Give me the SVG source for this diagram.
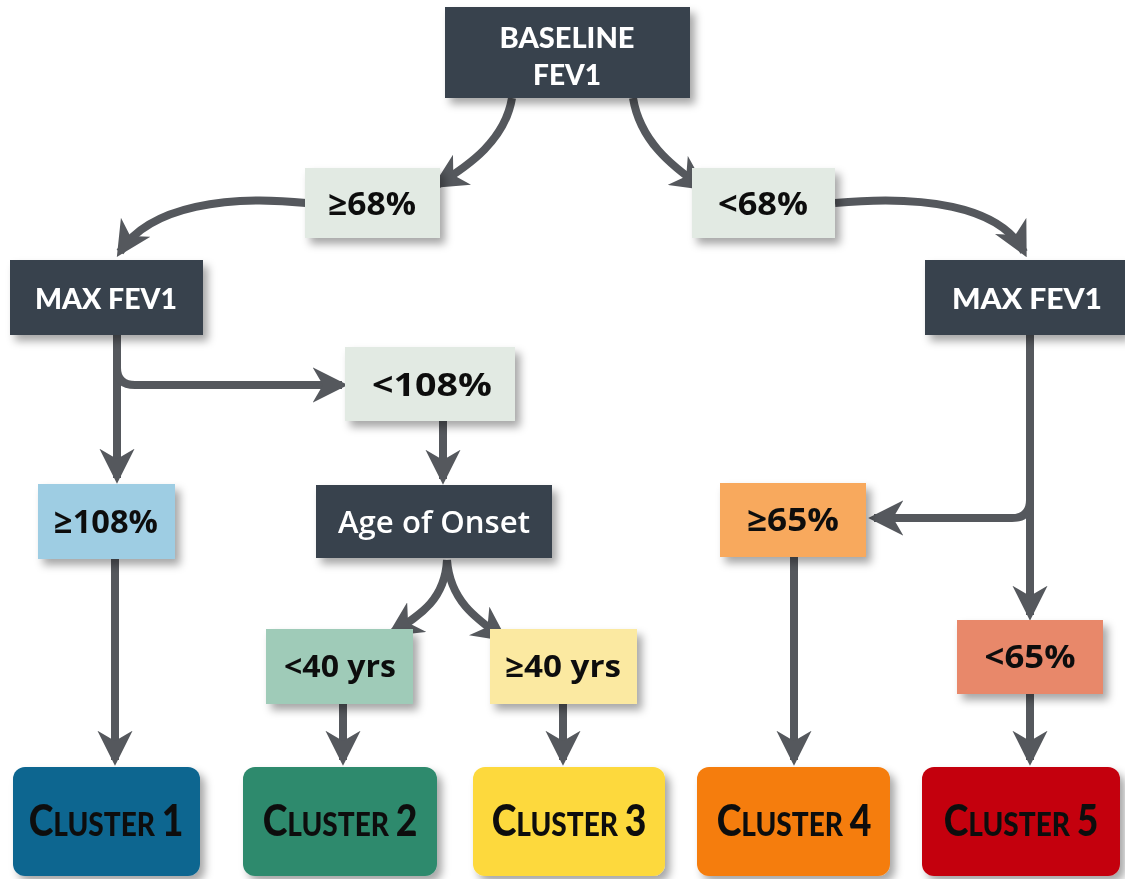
<svg xmlns="http://www.w3.org/2000/svg" width="1125" height="879" viewBox="0 0 1125 879">
<defs>
<filter id="sh" x="-10%" y="-10%" width="130%" height="140%">
<feDropShadow dx="5" dy="6" stdDeviation="4" flood-color="#000" flood-opacity="0.35"/>
</filter>
<marker id="ah" viewBox="0 0 12 12" refX="10" refY="6" markerWidth="4.4" markerHeight="4.4" orient="auto" markerUnits="strokeWidth">
<path d="M0,0 L12,6 L0,12 L3.5,6 z" fill="#55585d"/>
</marker>
<style>
.dk{fill:#37424e}
.lt{fill:#e2eae3}
.wt{font-family:"Lato","Open Sans",sans-serif;font-weight:900;fill:#fff;text-anchor:middle}
.wa{font-family:"Open Sans","Lato",sans-serif;font-weight:600;fill:#fff;text-anchor:middle}
.bk{font-family:"Open Sans","Lato",sans-serif;font-weight:700;fill:#111;text-anchor:middle}
.cl{font-family:"Lato","Open Sans",sans-serif;font-weight:900;fill:#111;text-anchor:middle}
.c{fill:none;stroke:#55585d;stroke-width:8;marker-end:url(#ah)}
</style>
</defs>
<rect width="1125" height="879" fill="#fff"/>
<g id="connectors">
<path class="c" d="M512,98 C505,140 470,165 437,185"/>
<path class="c" d="M633,98 C640,140 670,165 702,187"/>
<path class="c" d="M306,203 C230,195 150,205 120,252"/>
<path class="c" d="M835,203 C920,195 1000,205 1024,252"/>
<path class="c" d="M117,335 L117,478"/>
<path class="c" d="M117,368 Q117,385 135,385 L342,385"/>
<path class="c" d="M443,421 L443,479"/>
<path class="c" d="M115,559 L115,760"/>
<path class="c" d="M447,560 C445,600 420,615 392,633"/>
<path class="c" d="M447,560 C450,600 475,618 503,638"/>
<path class="c" d="M343,704 L343,760"/>
<path class="c" d="M563,704 L563,760"/>
<path class="c" d="M794,557 L794,760"/>
<path class="c" d="M1030,335 L1030,615"/>
<path class="c" d="M1030,500 Q1030,518 1012,518 L874,518"/>
<path class="c" d="M1030,694 L1030,760"/>
</g>
<g id="baseline" filter="url(#sh)">
<rect class="dk" x="445" y="7" width="245" height="91"/>
<text class="wt" x="567" y="48" font-size="29" textLength="135" lengthAdjust="spacingAndGlyphs">BASELINE</text>
<text class="wt" x="567" y="85" font-size="29" textLength="68" lengthAdjust="spacingAndGlyphs">FEV1</text>
</g>
<g id="ge68" filter="url(#sh)">
<rect class="lt" x="305" y="168" width="135" height="70"/>
<text class="bk" x="372" y="215" font-size="32" textLength="88" lengthAdjust="spacingAndGlyphs">≥68%</text>
</g>
<g id="lt68" filter="url(#sh)">
<rect class="lt" x="692" y="168" width="143" height="70"/>
<text class="bk" x="763" y="215" font-size="32" textLength="90" lengthAdjust="spacingAndGlyphs">&lt;68%</text>
</g>
<g id="maxL" filter="url(#sh)">
<rect class="dk" x="10" y="260" width="193" height="75"/>
<text class="wt" x="106" y="309" font-size="29" textLength="142" lengthAdjust="spacingAndGlyphs">MAX FEV1</text>
</g>
<g id="maxR" filter="url(#sh)">
<rect class="dk" x="925" y="260" width="200" height="75"/>
<text class="wt" x="1027" y="309" font-size="29" textLength="150" lengthAdjust="spacingAndGlyphs">MAX FEV1</text>
</g>
<g id="lt108" filter="url(#sh)">
<rect class="lt" x="345" y="347" width="170" height="74"/>
<text class="bk" x="432" y="396" font-size="33" textLength="120" lengthAdjust="spacingAndGlyphs">&lt;108%</text>
</g>
<g id="ge108" filter="url(#sh)">
<rect x="38" y="484" width="137" height="75" fill="#9ecde3"/>
<text class="bk" x="106" y="533" font-size="33" textLength="104" lengthAdjust="spacingAndGlyphs">≥108%</text>
</g>
<g id="age" filter="url(#sh)">
<rect class="dk" x="316" y="485" width="236" height="73"/>
<text class="wa" x="434" y="533" font-size="30" textLength="192" lengthAdjust="spacingAndGlyphs">Age of Onset</text>
</g>
<g id="ge65" filter="url(#sh)">
<rect x="720" y="483" width="146" height="74" fill="#f8a95d"/>
<text class="bk" x="793" y="531" font-size="32" textLength="92" lengthAdjust="spacingAndGlyphs">≥65%</text>
</g>
<g id="lt40" filter="url(#sh)">
<rect x="266" y="629" width="147" height="75" fill="#9fcbb8"/>
<text class="bk" x="340" y="677" font-size="30" font-weight="600" textLength="112" lengthAdjust="spacingAndGlyphs">&lt;40 yrs</text>
</g>
<g id="ge40" filter="url(#sh)">
<rect x="490" y="629" width="147" height="75" fill="#fbe9a1"/>
<text class="bk" x="563" y="677" font-size="30" font-weight="600" textLength="116" lengthAdjust="spacingAndGlyphs">≥40 yrs</text>
</g>
<g id="lt65" filter="url(#sh)">
<rect x="957" y="620" width="146" height="74" fill="#e8886b"/>
<text class="bk" x="1030" y="668" font-size="32" textLength="91" lengthAdjust="spacingAndGlyphs">&lt;65%</text>
</g>
<g id="cluster1" filter="url(#sh)">
<rect x="13" y="767" width="187" height="109" rx="12" fill="#0e6690"/>
<text class="cl" transform="translate(106,836) scale(0.85,1)"><tspan font-size="44">C</tspan><tspan font-size="33">LUSTER </tspan><tspan font-size="44">1</tspan></text>
</g>
<g id="cluster2" filter="url(#sh)">
<rect x="243" y="767" width="194" height="109" rx="12" fill="#2f8a6d"/>
<text class="cl" transform="translate(340,836) scale(0.85,1)"><tspan font-size="44">C</tspan><tspan font-size="33">LUSTER </tspan><tspan font-size="44">2</tspan></text>
</g>
<g id="cluster3" filter="url(#sh)">
<rect x="473" y="767" width="192" height="109" rx="12" fill="#fdd93c"/>
<text class="cl" transform="translate(569,836) scale(0.85,1)"><tspan font-size="44">C</tspan><tspan font-size="33">LUSTER </tspan><tspan font-size="44">3</tspan></text>
</g>
<g id="cluster4" filter="url(#sh)">
<rect x="697" y="767" width="193" height="109" rx="12" fill="#f57d0b"/>
<text class="cl" transform="translate(794,836) scale(0.85,1)"><tspan font-size="44">C</tspan><tspan font-size="33">LUSTER </tspan><tspan font-size="44">4</tspan></text>
</g>
<g id="cluster5" filter="url(#sh)">
<rect x="922" y="767" width="198" height="109" rx="12" fill="#c4040f"/>
<text class="cl" transform="translate(1021,836) scale(0.85,1)"><tspan font-size="44">C</tspan><tspan font-size="33">LUSTER </tspan><tspan font-size="44">5</tspan></text>
</g>
</svg>
